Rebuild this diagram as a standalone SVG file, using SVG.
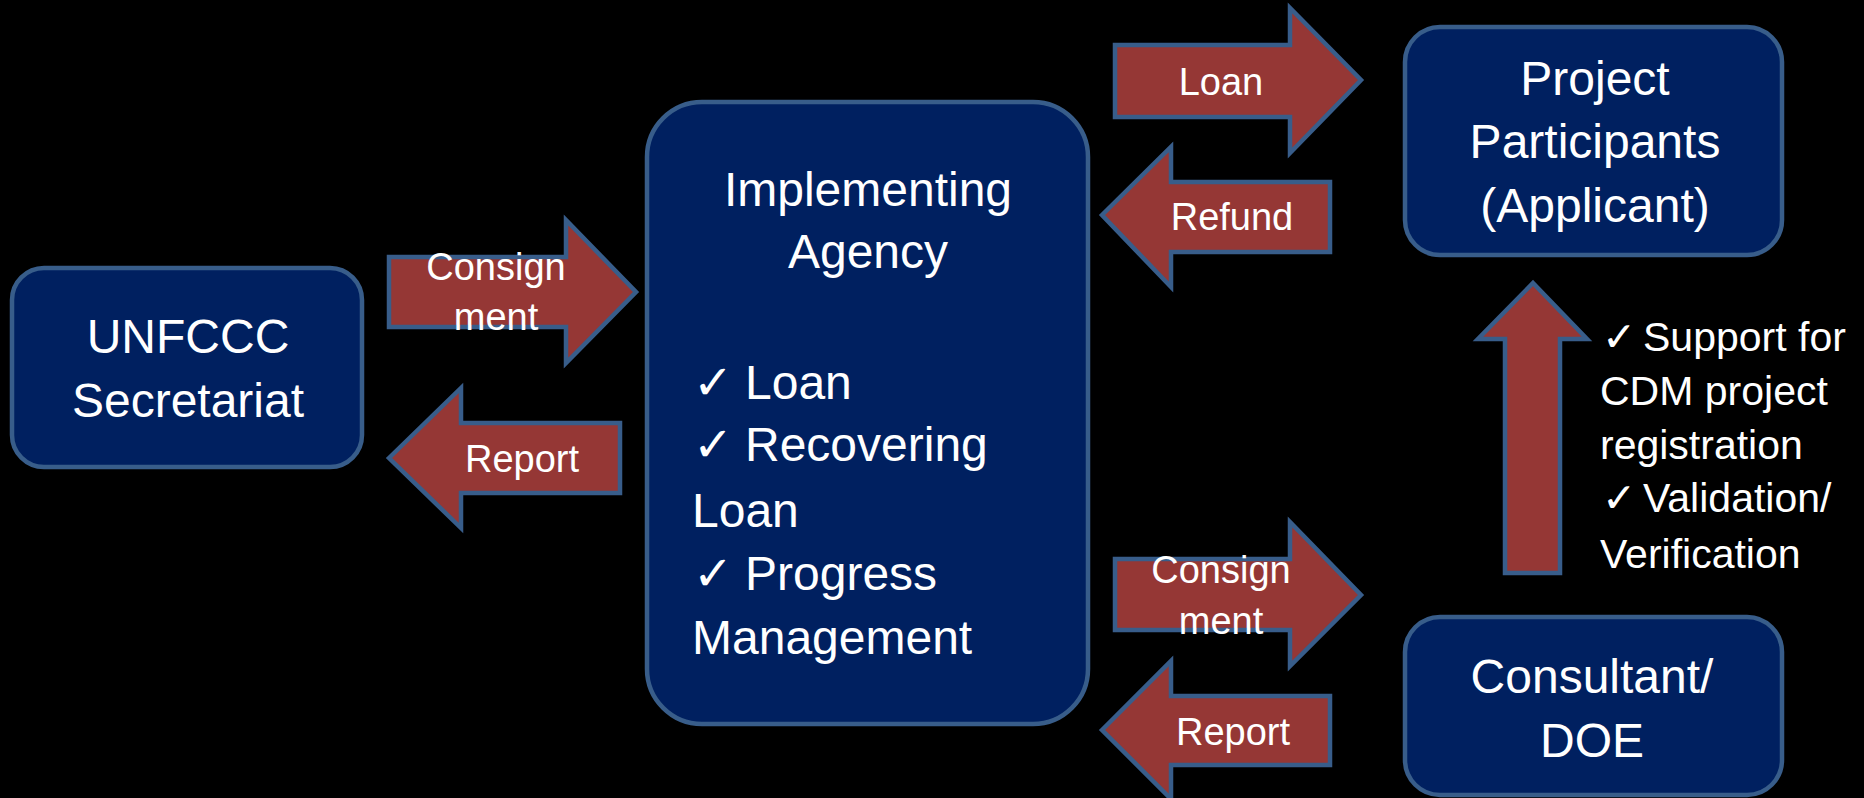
<svg xmlns="http://www.w3.org/2000/svg" width="1864" height="798" viewBox="0 0 1864 798">
<style>
.box{fill:#002060;stroke:#385d8a;stroke-width:4.5}
.arr{fill:#953735;stroke:#385d8a;stroke-width:4.5;stroke-linejoin:miter}
.t{font-family:"Liberation Sans",Arial,"DejaVu Sans",sans-serif;fill:#ffffff}
.big{font-size:48px}
.lbl{font-size:38px;text-anchor:middle}
.side{font-size:41px}
.c{text-anchor:middle}
.chk{font-family:"DejaVu Sans",sans-serif}
</style>
<rect width="1864" height="798" fill="#000000"/>
<g id="connectors">
<polygon class="arr" points="389,257 566,257 566,220 636,292 566,363 566,327 389,327"/>
<polygon class="arr" points="389,458 461,388 461,423 620,423 620,493 461,493 461,528"/>
<polygon class="arr" points="1115,45 1290,45 1290,8 1361,80 1290,153 1290,117 1115,117"/>
<polygon class="arr" points="1102,215 1171,147 1171,182 1330,182 1330,252 1171,252 1171,287"/>
<polygon class="arr" points="1115,559 1290,559 1290,522 1361,595 1290,666 1290,630 1115,630"/>
<polygon class="arr" points="1102,730 1171,661 1171,696 1330,696 1330,765 1171,765 1171,799"/>
<polygon class="arr" points="1533,283 1587,339 1560,339 1560,573 1505,573 1505,339 1478,339"/>
<text class="t lbl" x="496" y="280">Consign</text>
<text class="t lbl" x="496" y="330">ment</text>
<text class="t lbl" x="522" y="472">Report</text>
<text class="t lbl" x="1221" y="95">Loan</text>
<text class="t lbl" x="1232" y="230">Refund</text>
<text class="t lbl" x="1221" y="583">Consign</text>
<text class="t lbl" x="1221" y="634">ment</text>
<text class="t lbl" x="1233" y="745">Report</text>
<g class="t side">
<text x="1602" y="351"><tspan class="chk">✓</tspan><tspan x="1643">Support for</tspan></text>
<text x="1600" y="405">CDM project</text>
<text x="1600" y="459">registration</text>
<text x="1602" y="512"><tspan class="chk">✓</tspan><tspan x="1643">Validation/</tspan></text>
<text x="1600" y="568">Verification</text>
</g>
</g>
<g id="unfccc">
<rect class="box" x="12" y="268" width="350" height="199" rx="32"/>
<text class="t big c" x="188" y="353">UNFCCC</text>
<text class="t big c" x="188" y="417">Secretariat</text>
</g>
<g id="implementing">
<rect class="box" x="647" y="102" width="441" height="622" rx="55"/>
<text class="t big c" x="868" y="206">Implementing</text>
<text class="t big c" x="868" y="268">Agency</text>
<g class="t big">
<text x="693" y="399"><tspan class="chk">✓</tspan><tspan x="745">Loan</tspan></text>
<text x="693" y="461"><tspan class="chk">✓</tspan><tspan x="745">Recovering</tspan></text>
<text x="692" y="527">Loan</text>
<text x="693" y="590"><tspan class="chk">✓</tspan><tspan x="745">Progress</tspan></text>
<text x="692" y="654">Management</text>
</g>
</g>
<g id="participants">
<rect class="box" x="1405" y="27" width="377" height="228" rx="35"/>
<text class="t big c" x="1595" y="95">Project</text>
<text class="t big c" x="1595" y="158">Participants</text>
<text class="t big c" x="1595" y="222">(Applicant)</text>
</g>
<g id="consultant">
<rect class="box" x="1405" y="617" width="377" height="178" rx="35"/>
<text class="t big c" x="1592" y="693">Consultant/</text>
<text class="t big c" x="1592" y="757">DOE</text>
</g>
</svg>
